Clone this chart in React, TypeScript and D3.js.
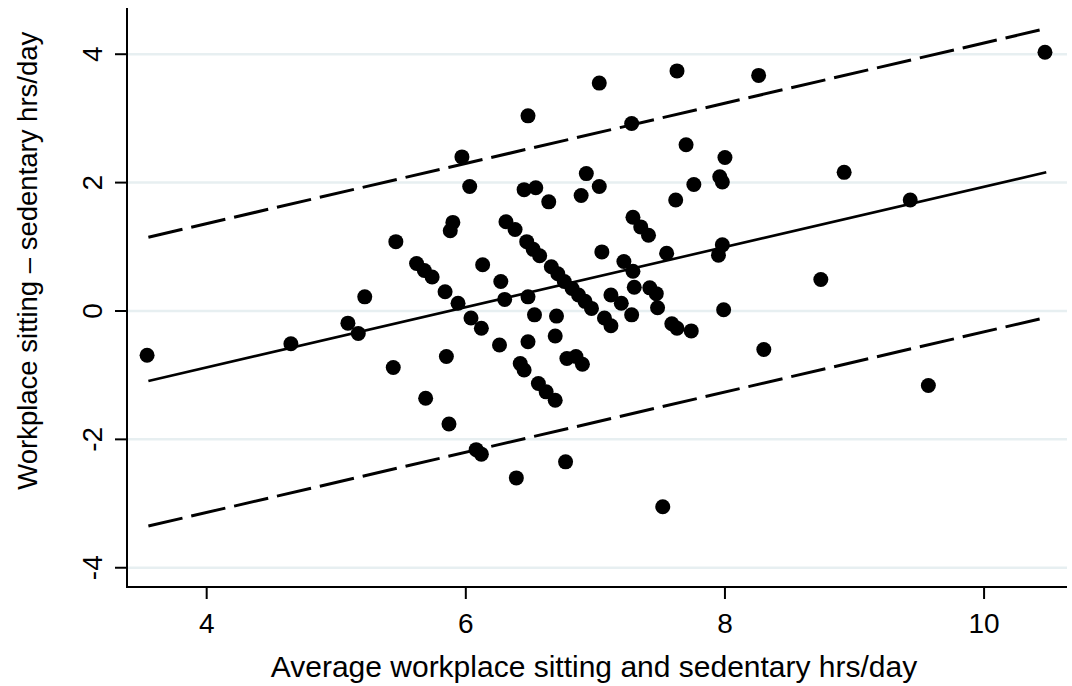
import React from "react";
import * as d3 from "d3";

// average of the two measures (x) and their difference (y), one entry per participant
const avgHours = [
  3.54, 4.65, 5.09, 5.17, 5.22, 5.44, 5.46, 5.62, 5.68, 5.74,
  5.69, 5.84, 5.85, 5.87, 5.88, 5.9, 5.94, 5.97, 6.03, 6.04,
  6.12, 6.08, 6.12, 6.13, 6.26, 6.27, 6.3, 6.31, 6.38, 6.39,
  6.42, 6.45, 6.45, 6.54, 6.47, 6.52, 6.57, 6.48, 6.48, 6.48,
  6.53, 6.56, 6.62, 6.69, 6.64, 6.66, 6.71, 6.76, 6.82, 6.87,
  6.92, 6.97, 6.69, 6.7, 6.78, 6.85, 6.9, 6.77, 6.89, 6.93,
  7.03, 7.03, 7.05, 7.07, 7.12, 7.12, 7.2, 7.28, 7.22, 7.29,
  7.28, 7.29, 7.35, 7.41, 7.3, 7.42, 7.47, 7.48, 7.52, 7.55,
  7.59, 7.63, 7.74, 7.62, 7.63, 7.7, 7.76, 7.96, 7.98, 8.0,
  7.98, 7.99, 8.26, 8.3, 8.74, 8.92, 9.43, 9.57, 10.47, 7.95,
];
const diffHours = [
  -0.69, -0.51, -0.19, -0.35, 0.22, -0.88, 1.08, 0.74, 0.63, 0.53,
  -1.36, 0.3, -0.71, -1.76, 1.25, 1.38, 0.12, 2.4, 1.94, -0.11,
  -0.27, -2.16, -2.23, 0.72, -0.53, 0.46, 0.18, 1.39, 1.27, -2.6,
  -0.82, -0.92, 1.89, 1.92, 1.08, 0.96, 0.86, 3.04, 0.22, -0.48,
  -0.06, -1.13, -1.26, -1.39, 1.7, 0.69, 0.58, 0.46, 0.35, 0.25,
  0.15, 0.04, -0.39, -0.08, -0.74, -0.71, -0.83, -2.35, 1.8, 2.14,
  1.94, 3.55, 0.92, -0.11, -0.23, 0.25, 0.12, -0.06, 0.77, 0.62,
  2.92, 1.46, 1.31, 1.18, 0.37, 0.36, 0.27, 0.05, -3.05, 0.9,
  -0.2, -0.27, -0.31, 1.73, 3.74, 2.59, 1.97, 2.09, 2.01, 2.39,
  1.03, 0.02, 3.67, -0.6, 0.49, 2.16, 1.73, -1.16, 4.03, 0.87,
];

const xTicks = [4, 6, 8, 10];
const yTicks = [-4, -2, 0, 2, 4];

// regression of difference on average, with limits of agreement
const fitRange = [3.55, 10.48];
const fitIntercept = -2.755;
const fitSlope = 0.469;
const limitOffsets = [2.24, -2.26];

const xTitle = "Average workplace sitting and sedentary hrs/day";
const yTitle = "Workplace sitting \u2013 sedentary hrs/day";

const W = 1072, H = 686;
const left = 127, right = 1067, top = 8, bottom = 587;
const font = "'Liberation Sans', Arial, Helvetica, sans-serif";

export default function App() {
  const x = d3.scaleLinear().domain([3.385, 10.64]).range([left, right]);
  const y = d3.scaleLinear().domain([-4.3, 4.72]).range([bottom, top]);

  const line = d3.line<number>()
    .x(d => x(d))
    .y(d => y(fitIntercept + fitSlope * d));
  const offsetLine = (off: number) => d3.line<number>()
    .x(d => x(d))
    .y(d => y(fitIntercept + off + fitSlope * d));

  const points = avgHours.map((a, i) => ({ a, d: diffHours[i] }));

  return (
    <div style={{ position: "absolute", left: 0, top: 0 }}>
      <svg width={W} height={H} style={{ display: "block", background: "#fff" }}>
        {/* grid */}
        {yTicks.map(t => (
          <line key={"g" + t} x1={left} x2={right} y1={y(t)} y2={y(t)}
            stroke="#e7eff1" strokeWidth={2.5} />
        ))}

        {/* fit and limits */}
        <path d={line(fitRange) || ""} fill="none" stroke="#000" strokeWidth={2.6} />
        {limitOffsets.map(o => (
          <path key={"l" + o} d={offsetLine(o)(fitRange) || ""} fill="none"
            stroke="#000" strokeWidth={3} strokeDasharray="35 9" />
        ))}

        {/* points */}
        {points.map((p, i) => (
          <circle key={i} cx={x(p.a)} cy={y(p.d)} r={7.5} fill="#000" />
        ))}

        {/* axes */}
        <line x1={left} x2={left} y1={top} y2={bottom + 1} stroke="#000" strokeWidth={2} />
        <line x1={left - 1} x2={right} y1={bottom} y2={bottom} stroke="#000" strokeWidth={2} />

        {yTicks.map(t => (
          <g key={"y" + t}>
            <line x1={left - 12} x2={left} y1={y(t)} y2={y(t)} stroke="#000" strokeWidth={2} />
            <text transform={`translate(${101.5},${y(t)}) rotate(-90)`} textAnchor="middle"
              fontFamily={font} fontSize={28} fill="#000">{t}</text>
          </g>
        ))}
        {xTicks.map(t => (
          <g key={"x" + t}>
            <line x1={x(t)} x2={x(t)} y1={bottom} y2={bottom + 12} stroke="#000" strokeWidth={2} />
            <text x={x(t)} y={633} textAnchor="middle" fontFamily={font} fontSize={28} fill="#000">{t}</text>
          </g>
        ))}

        {/* titles */}
        <text x={594} y={677} textAnchor="middle" fontFamily={font} fontSize={30} fill="#000">{xTitle}</text>
        <text transform={`translate(37,31.7) rotate(-90)`} textAnchor="end"
          fontFamily={font} fontSize={27.5} fill="#000">{yTitle}</text>
      </svg>
    </div>
  );
}
